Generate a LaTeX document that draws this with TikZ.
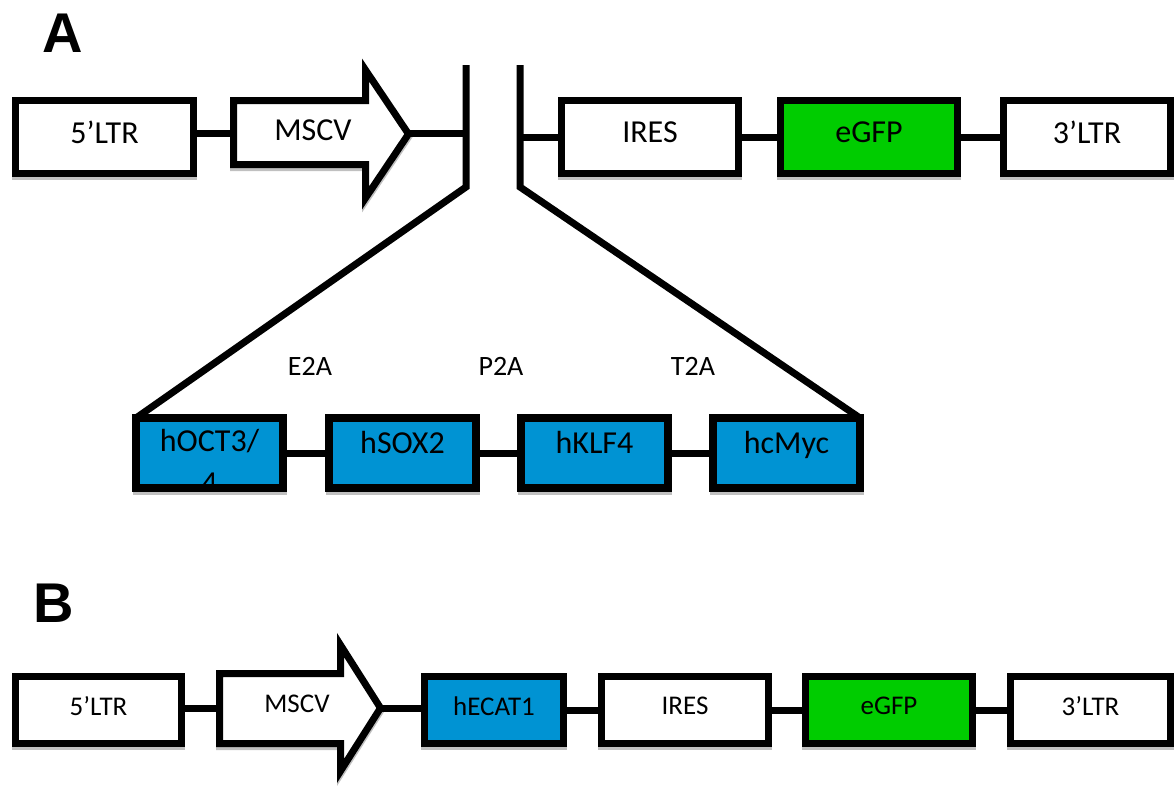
\documentclass[tikz,border=0pt]{standalone}
\usepackage{fontspec}
\setmainfont{Carlito}
\newfontfamily\panelfont{Liberation Sans}
\usetikzlibrary{positioning, shadows}
\definecolor{geneBlue}{RGB}{0, 147, 211}
\definecolor{gfpGreen}{RGB}{0, 204, 0}
\definecolor{shadowGray}{RGB}{192, 192, 192}

\begin{document}
\begin{tikzpicture}[x=1pt, y=-1pt,
    lowshadow/.style={drop shadow={shadow xshift=0pt, shadow yshift=-3pt, opacity=1,
                      fill=shadowGray, draw=shadowGray, line width=7pt}},
    part/.style={draw, line width=7pt, fill=white, inner sep=0pt, outer sep=0pt, lowshadow},
    partA/.style={part, minimum height=73pt, text depth=10pt, font=\fontsize{32}{38}\selectfont},
    partB/.style={part, minimum height=67pt, text depth=8pt, font=\fontsize{27}{32}\selectfont},
    gene/.style={part, line width=8pt, fill=geneBlue, minimum width=147pt, minimum height=70pt,
                 text depth=22pt, font=\fontsize{32}{42}\selectfont},
    promoter/.style={draw, line width=7pt, fill=white, line join=miter, lowshadow},
    link/.style={line width=7pt},
    tag/.style={font=\fontsize{28}{34}\selectfont},
    panel/.style={font=\panelfont\bfseries\fontsize{56}{60}\selectfont}
  ]
    \useasboundingbox (0,0) rectangle (1175,785);

    % construct A
    \node[panel] (labA) at (63,33) {A};
    \node[partA, minimum width=178pt] (ltrA) at (104.5,137) {5’LTR};
    \draw[promoter] (233.5,100.5) -- (365.5,100.5) -- (365.5,70) -- (408.5,134)
      -- (365.5,198) -- (365.5,164.5) -- (233.5,164.5) -- cycle;
    \coordinate (tailA) at (233.5,133);
    \coordinate (tipA) at (408.5,133);
    \node[font=\fontsize{32}{38}\selectfont] (mscvA) at (313,130) {MSCV};
    \coordinate (cutLtop) at (466,65);
    \coordinate (cutLbend) at (466,187);
    \coordinate (cutRtop) at (520,65);
    \coordinate (cutRbend) at (520,187);
    \node[partA, minimum width=177pt] (iresA) at (650,137) {IRES};
    \node[partA, minimum width=177pt, fill=gfpGreen] (gfpA) at (869,137) {eGFP};
    \node[partA, minimum width=167pt] (ltr3A) at (1087,137) {3’LTR};

    \node[tag] (e2a) at (310,366) {E2A};
    \node[tag] (p2a) at (501,366) {P2A};
    \node[tag] (t2a) at (693,366) {T2A};

    \node[gene] (oct) at (209.5,453) {};
    \begin{scope}
      \clip (oct.north west) rectangle (oct.south east);
      \node[font=\fontsize{32}{42}\selectfont, align=center] (octtxt) at (209.5,461) {hOCT3/\\4};
    \end{scope}
    \draw[line width=8pt] (oct.north west) rectangle (oct.south east);
    \node[gene] (sox) at (402.5,453) {hSOX2};
    \node[gene] (klf) at (594.5,453) {hKLF4};
    \node[gene] (myc) at (786.5,453) {hcMyc};

    \draw[link] (ltrA.east |- tailA) -- (tailA);
    \draw[link] (tipA) -- (cutLtop |- tipA);
    \draw[link] (cutLtop) -- (cutLbend) -- (oct.north west);
    \draw[link] (cutRtop) -- (cutRbend) -- (myc.north east);
    \draw[link] (cutRtop |- iresA.west) -- (iresA.west);
    \draw[link] (iresA.east) -- (gfpA.west);
    \draw[link] (gfpA.east) -- (ltr3A.west);
    \draw[link] (oct.east) -- (sox.west);
    \draw[link] (sox.east) -- (klf.west);
    \draw[link] (klf.east) -- (myc.west);

    % construct B
    \node[panel] (labB) at (54,603) {B};
    \node[partB, minimum width=166pt] (ltrB) at (98.5,710) {5’LTR};
    \draw[promoter] (219.5,673.5) -- (340.5,673.5) -- (340.5,645) -- (380.5,708)
      -- (340.5,771) -- (340.5,743.5) -- (219.5,743.5) -- cycle;
    \coordinate (tailB) at (219.5,708);
    \coordinate (tipB) at (380.5,708);
    \node[font=\fontsize{27}{32}\selectfont] (mscvB) at (297,704) {MSCV};
    \node[partB, minimum width=139pt, fill=geneBlue] (ecat) at (494,710) {hECAT1};
    \node[partB, minimum width=167pt] (iresB) at (685,710) {IRES};
    \node[partB, minimum width=167pt, fill=gfpGreen] (gfpB) at (889,710) {eGFP};
    \node[partB, minimum width=160pt] (ltr3B) at (1090.5,710) {3’LTR};

    \draw[link] (ltrB.east |- tailB) -- (tailB);
    \draw[link] (tipB) -- (tipB -| ecat.west);
    \draw[link] (ecat.east) -- (iresB.west);
    \draw[link] (iresB.east) -- (gfpB.west);
    \draw[link] (gfpB.east) -- (ltr3B.west);
\end{tikzpicture}
\end{document}
